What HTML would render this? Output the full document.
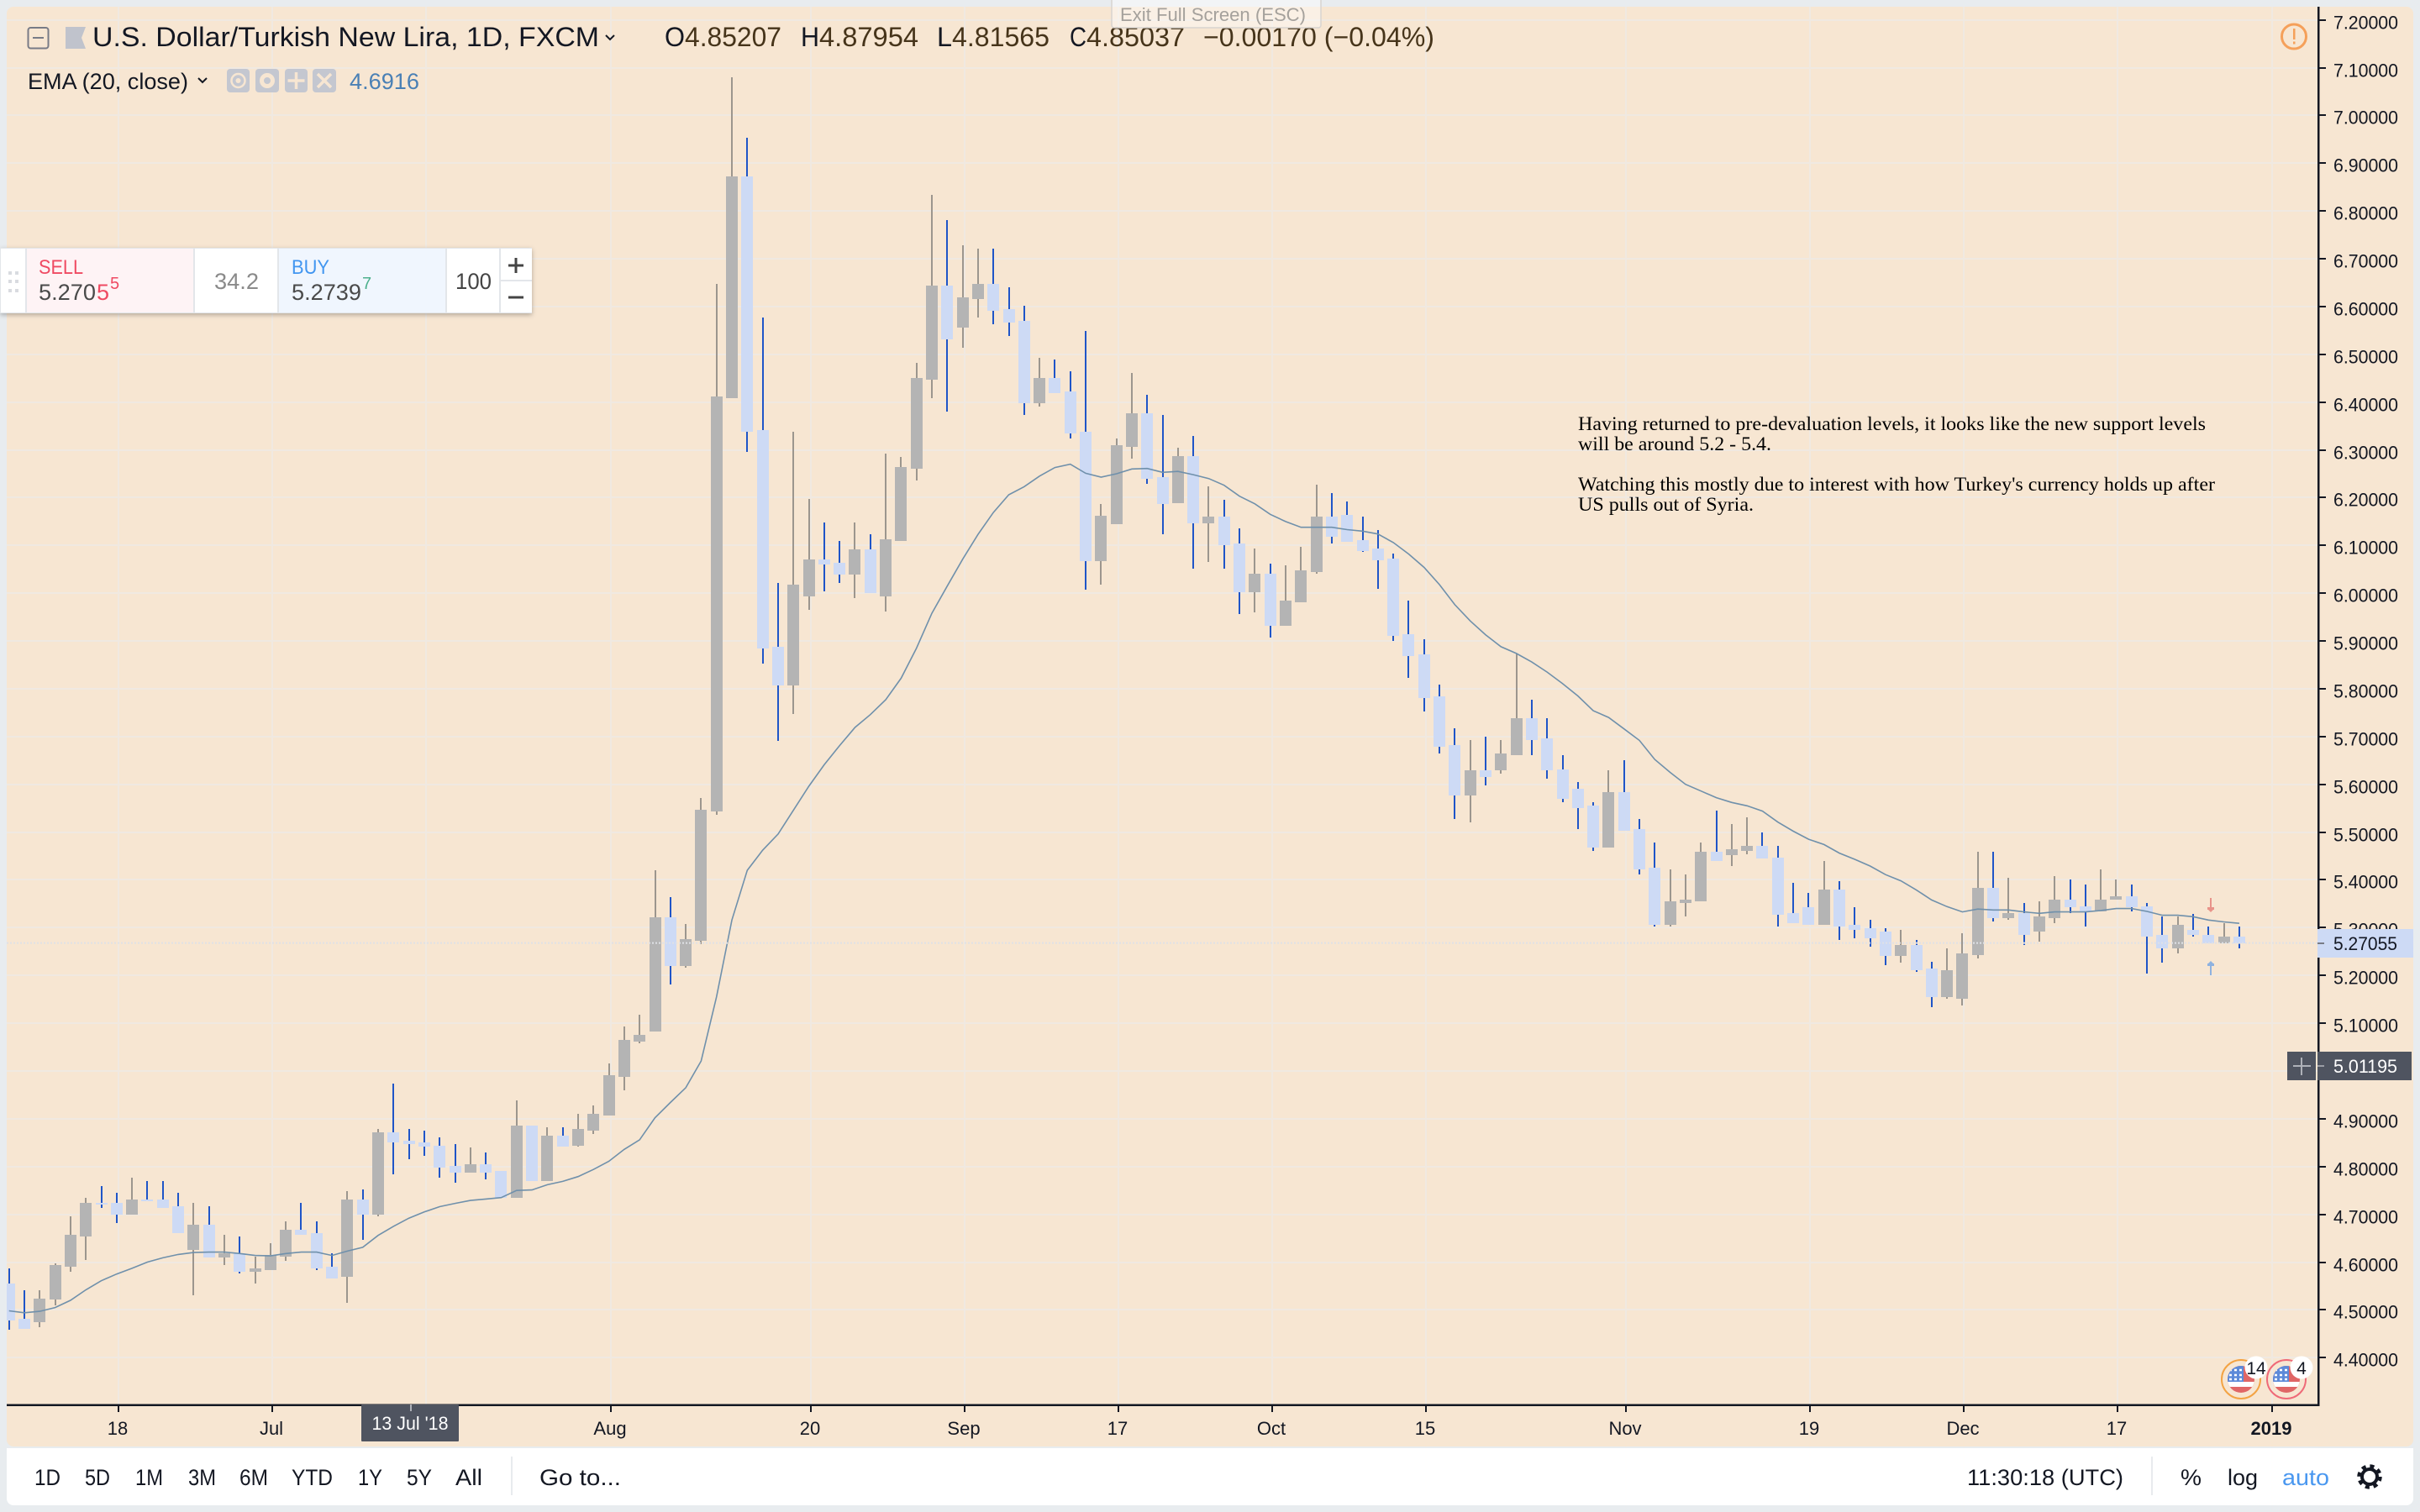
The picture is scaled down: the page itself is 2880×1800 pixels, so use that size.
<!DOCTYPE html>
<html lang="en">
<head>
<meta charset="utf-8">
<title>U.S. Dollar/Turkish New Lira, 1D, FXCM</title>
<style>
html,body{margin:0;padding:0;width:2880px;height:1800px;overflow:hidden;background:#e8ecef;}
svg{display:block;font-family:"Liberation Sans",Arial,sans-serif;}
</style>
</head>
<body>
<svg id="root" width="2880" height="1800" viewBox="0 0 2880 1800" xmlns="http://www.w3.org/2000/svg">
  <defs>
    <clipPath id="plot-clip"><rect x="8" y="8" width="2750" height="1664"/></clipPath>
    <clipPath id="flag-a"><circle cx="2667" cy="1642" r="16"/></clipPath>
    <clipPath id="flag-b"><circle cx="2721" cy="1642" r="16"/></clipPath>
    <filter id="widget-shadow" x="-5%" y="-20%" width="110%" height="140%"><feDropShadow dx="0" dy="2" stdDeviation="3" flood-color="#000" flood-opacity="0.28"/></filter>
  </defs>

  <rect x="8" y="8" width="2864" height="1714" rx="8" fill="#f7e6d2"/>

  <g id="grid-layer"></g>
  <g id="candle-layer" clip-path="url(#plot-clip)"></g>
  <path id="ema-line" fill="none" stroke="#6f90ab" stroke-width="1.6" clip-path="url(#plot-clip)"/>
  <line id="last-price-line" x1="8" x2="2758" stroke="#dfe1e6" stroke-width="2" stroke-dasharray="2 2"/>

  <g fill="#e8938a">
    <rect x="2630" y="1069" width="2" height="16"/><rect x="2627" y="1080" width="8" height="3"/><path d="M2628 1083h6l-3 3z"/>
  </g>
  <g fill="#8fb2df">
    <rect x="2630" y="1146" width="2" height="15"/><rect x="2627" y="1147" width="8" height="3"/><path d="M2628 1147h6l-3-3z"/>
  </g>

  <g font-family="'Liberation Serif',serif" font-size="23" fill="#000">
    <text x="1878" y="512" textLength="747" lengthAdjust="spacingAndGlyphs">Having returned to pre-devaluation levels, it looks like the new support levels</text>
    <text x="1878" y="536" textLength="230" lengthAdjust="spacingAndGlyphs">will be around 5.2 - 5.4.</text>
    <text x="1878" y="584" textLength="758" lengthAdjust="spacingAndGlyphs">Watching this mostly due to interest with how Turkey's currency holds up after</text>
    <text x="1878" y="608" textLength="209" lengthAdjust="spacingAndGlyphs">US pulls out of Syria.</text>
  </g>

  <g id="axis-layer"></g>

  <rect x="2758" y="1106" width="114" height="34" fill="#cddaf5"/>
  <rect x="2758" y="1122" width="8" height="2" fill="#787b86"/>
  <text x="2777" y="1131" font-size="22" fill="#131722" textLength="76" lengthAdjust="spacingAndGlyphs">5.27055</text>

  <rect x="2722" y="1252" width="34" height="34" fill="#4f5460"/>
  <path d="M2739 1259v21M2729 1269h21" stroke="#aeb1b8" stroke-width="2" fill="none"/>
  <rect x="2758" y="1252" width="112" height="34" fill="#4f5460"/>
  <rect x="2758" y="1268" width="8" height="2" fill="#9a9da5"/>
  <text x="2777" y="1277" font-size="22" fill="#fff" textLength="76" lengthAdjust="spacingAndGlyphs">5.01195</text>

  <rect x="430" y="1672" width="116" height="44" rx="1" fill="#4f5460"/>
  <rect x="488" y="1672" width="2" height="8" fill="#aeb1b8"/>
  <text x="488" y="1702" font-size="22" fill="#fff" text-anchor="middle" textLength="91" lengthAdjust="spacingAndGlyphs">13 Jul '18</text>

  <g>
    <rect x="33.5" y="33" width="24" height="24.5" rx="3" fill="none" stroke="#787b86" stroke-width="2"/>
    <rect x="39" y="44" width="13" height="2" fill="#787b86"/>
    <path d="M78 32h24l-5 13 5 13H78z" fill="#c0c3cc"/>
    <text x="110" y="55" font-size="32" fill="#131722" textLength="603" lengthAdjust="spacingAndGlyphs">U.S. Dollar/Turkish New Lira, 1D, FXCM</text>
    <path d="M721 42l5 5 5-5" fill="none" stroke="#131722" stroke-width="2"/>
    <g font-size="32">
      <text x="791" y="55" fill="#131722" textLength="24" lengthAdjust="spacingAndGlyphs">O</text>
      <text x="815" y="55" fill="#46341a" textLength="115" lengthAdjust="spacingAndGlyphs">4.85207</text>
      <text x="953" y="55" fill="#131722" textLength="22" lengthAdjust="spacingAndGlyphs">H</text>
      <text x="975" y="55" fill="#46341a" textLength="118" lengthAdjust="spacingAndGlyphs">4.87954</text>
      <text x="1115" y="55" fill="#131722" textLength="18" lengthAdjust="spacingAndGlyphs">L</text>
      <text x="1133" y="55" fill="#46341a" textLength="116" lengthAdjust="spacingAndGlyphs">4.81565</text>
      <text x="1273" y="55" fill="#131722" textLength="20" lengthAdjust="spacingAndGlyphs">C</text>
      <text x="1293" y="55" fill="#46341a" textLength="117" lengthAdjust="spacingAndGlyphs">4.85037</text>
      <text x="1432" y="55" fill="#46341a" textLength="275" lengthAdjust="spacingAndGlyphs">−0.00170 (−0.04%)</text>
    </g>
  </g>

  <g>
    <text x="33" y="106" font-size="27" fill="#131722" textLength="191" lengthAdjust="spacingAndGlyphs">EMA (20, close)</text>
    <path d="M236 93l5 5 5-5" fill="none" stroke="#131722" stroke-width="2"/>
    <g><rect x="270" y="82" width="27" height="28" rx="4" fill="#c4c7d0"/><circle cx="283.500" cy="96" r="8" fill="none" stroke="#f7e6d2" stroke-width="2.500"/><circle cx="283.500" cy="96" r="3" fill="#f7e6d2"/></g>
    <g><rect x="304" y="82" width="28" height="28" rx="4" fill="#c4c7d0"/><circle cx="318" cy="96" r="6.500" fill="none" stroke="#f7e6d2" stroke-width="5"/></g>
    <g><rect x="339" y="82" width="27" height="28" rx="4" fill="#c4c7d0"/><path d="M352.500 86v20M342.500 96h20" stroke="#f7e6d2" stroke-width="3.500"/></g>
    <g><rect x="372" y="82" width="28" height="28" rx="4" fill="#c4c7d0"/><path d="M378 88l16 16M394 88l-16 16" stroke="#f7e6d2" stroke-width="3.500"/></g>
    <text x="416" y="106" font-size="27" fill="#4a80b5" textLength="83" lengthAdjust="spacingAndGlyphs">4.6916</text>
  </g>

  <g>
    <rect x="0" y="295" width="633" height="78" fill="#e3e6ea" filter="url(#widget-shadow)"/>
    <rect x="1" y="296" width="29" height="76" fill="#fff"/>
    <g fill="#d9dbe0"><rect x="10" y="323" width="4" height="4"/><rect x="18" y="323" width="4" height="4"/><rect x="10" y="333" width="4" height="4"/><rect x="18" y="333" width="4" height="4"/><rect x="10" y="344" width="4" height="4"/><rect x="18" y="344" width="4" height="4"/></g>
    <g>
      <rect x="32" y="296" width="198" height="76" fill="#fef3f5"/>
      <text x="46" y="326" font-size="24" fill="#ef4a62" textLength="53" lengthAdjust="spacingAndGlyphs">SELL</text>
      <text x="46" y="357" font-size="27" fill="#4a4a4a" textLength="68" lengthAdjust="spacingAndGlyphs">5.270</text>
      <text x="115" y="357" font-size="27" fill="#ef4a62">5</text>
      <text x="131" y="344" font-size="20" fill="#ef4a62">5</text>
    </g>
    <rect x="232" y="296" width="98" height="76" fill="#fff"/>
    <text x="255" y="344" font-size="27" fill="#8a8a8a" textLength="53" lengthAdjust="spacingAndGlyphs">34.2</text>
    <g>
      <rect x="332" y="296" width="198" height="76" fill="#f0f6fe"/>
      <text x="347" y="326" font-size="24" fill="#4296f0" textLength="45" lengthAdjust="spacingAndGlyphs">BUY</text>
      <text x="347" y="357" font-size="27" fill="#4a4a4a" textLength="83" lengthAdjust="spacingAndGlyphs">5.2739</text>
      <text x="431" y="344" font-size="20" fill="#4db08d">7</text>
    </g>
    <rect x="532" y="296" width="62" height="76" fill="#fff"/>
    <text x="542" y="344" font-size="27" fill="#444" textLength="43" lengthAdjust="spacingAndGlyphs">100</text>
    <rect x="596" y="296" width="37" height="37" fill="#fff"/>
    <rect x="596" y="335" width="37" height="37" fill="#fff"/>
    <path d="M614 307v18M605 316h18M605 354h18" stroke="#444" stroke-width="3"/>
  </g>

  <g>
    <rect x="1323" y="-4" width="249" height="37" rx="3" fill="#ffffff" fill-opacity="0.42" stroke="#d8d4d0" stroke-width="1.500"/>
    <text x="1333" y="25" font-size="22" fill="#a5a19c" textLength="221" lengthAdjust="spacingAndGlyphs">Exit Full Screen (ESC)</text>
  </g>

  <g>
    <circle cx="2730" cy="43.500" r="14.500" fill="none" stroke="#f5a05a" stroke-width="3"/>
    <rect x="2729" y="34" width="2.500" height="13" fill="#f5a05a"/><rect x="2729" y="49.500" width="2.500" height="3" fill="#f5a05a"/>
  </g>

  <g>
    <circle cx="2667" cy="1642" r="23" fill="none" stroke="#f3a343" stroke-width="2"/>
    <g clip-path="url(#flag-a)">
      <rect x="2651" y="1626" width="32" height="32" fill="#e06666"/>
      <rect x="2651" y="1645" width="32" height="6" fill="#fff"/>
      <rect x="2651" y="1626" width="19" height="19" fill="#5d8ad9"/>
      <path d="M2653 1631h16M2653 1637h16M2653 1642h16" stroke="#fff" stroke-width="2.500" stroke-dasharray="3 3"/>
    </g>
    <circle cx="2685" cy="1628" r="13.500" fill="#fff"/>
    <text x="2685" y="1636" font-size="21" fill="#131722" text-anchor="middle">14</text>
  </g>
  <g>
    <circle cx="2721" cy="1642" r="23" fill="none" stroke="#ef6a78" stroke-width="2"/>
    <g clip-path="url(#flag-b)">
      <rect x="2705" y="1626" width="32" height="32" fill="#e06666"/>
      <rect x="2705" y="1645" width="32" height="6" fill="#fff"/>
      <rect x="2705" y="1626" width="19" height="19" fill="#5d8ad9"/>
      <path d="M2707 1631h16M2707 1637h16M2707 1642h16" stroke="#fff" stroke-width="2.500" stroke-dasharray="3 3"/>
    </g>
    <circle cx="2739" cy="1628" r="13.500" fill="#fff"/>
    <text x="2739" y="1636" font-size="21" fill="#131722" text-anchor="middle">4</text>
  </g>

  <g font-size="27" fill="#131722">
    <path d="M8 1724H2872V1784a8 8 0 0 1-8 8H16a8 8 0 0 1-8-8z" fill="#fff"/>
    <text x="41" y="1768" textLength="31" lengthAdjust="spacingAndGlyphs">1D</text>
    <text x="101" y="1768" textLength="30" lengthAdjust="spacingAndGlyphs">5D</text>
    <text x="161" y="1768" textLength="33" lengthAdjust="spacingAndGlyphs">1M</text>
    <text x="224" y="1768" textLength="33" lengthAdjust="spacingAndGlyphs">3M</text>
    <text x="285" y="1768" textLength="34" lengthAdjust="spacingAndGlyphs">6M</text>
    <text x="347" y="1768" textLength="49" lengthAdjust="spacingAndGlyphs">YTD</text>
    <text x="426" y="1768" textLength="29" lengthAdjust="spacingAndGlyphs">1Y</text>
    <text x="484" y="1768" textLength="30" lengthAdjust="spacingAndGlyphs">5Y</text>
    <text x="542" y="1768" textLength="32" lengthAdjust="spacingAndGlyphs">All</text>
    <rect x="608" y="1734" width="2" height="46" fill="#e8ebee"/>
    <text x="642" y="1768" textLength="97" lengthAdjust="spacingAndGlyphs">Go to...</text>
    <text x="2341" y="1768" textLength="186" lengthAdjust="spacingAndGlyphs">11:30:18 (UTC)</text>
    <rect x="2560" y="1734" width="2" height="46" fill="#e8ebee"/>
    <text x="2595" y="1768" textLength="25" lengthAdjust="spacingAndGlyphs">%</text>
    <text x="2651" y="1768" textLength="36" lengthAdjust="spacingAndGlyphs">log</text>
    <text x="2716" y="1768" fill="#4a98f0" textLength="56" lengthAdjust="spacingAndGlyphs">auto</text>
    <g>
      <circle cx="2820" cy="1758" r="9" fill="none" stroke="#131722" stroke-width="4"/>
      <circle cx="2820" cy="1758" r="12.500" fill="none" stroke="#131722" stroke-width="4.500" stroke-dasharray="5 4.820"/>
    </g>
  </g>
</svg>

<script>
const opens=[4.555,4.481,4.475,4.521,4.591,4.654,4.724,4.724,4.700,4.731,4.731,4.717,4.626,4.678,4.609,4.619,4.580,4.584,4.612,4.668,4.661,4.590,4.570,4.731,4.700,4.872,4.854,4.851,4.844,4.801,4.788,4.805,4.791,4.735,4.886,4.770,4.865,4.844,4.875,4.907,4.988,5.062,5.083,5.322,5.220,5.273,5.544,6.409,6.872,6.341,5.888,5.807,5.993,6.071,6.063,6.039,6.092,5.993,6.109,6.261,6.447,6.644,6.556,6.616,6.647,6.594,6.570,6.398,6.451,6.422,6.338,6.067,6.145,6.306,6.376,6.243,6.189,6.287,6.146,6.160,6.104,6.002,6.041,5.931,5.981,6.044,6.160,6.164,6.111,6.093,6.072,5.914,5.872,5.784,5.682,5.576,5.629,5.629,5.661,5.738,5.696,5.632,5.590,5.555,5.467,5.584,5.506,5.426,5.306,5.352,5.356,5.458,5.451,5.461,5.472,5.447,5.331,5.342,5.306,5.380,5.306,5.299,5.292,5.240,5.264,5.215,5.155,5.152,5.243,5.384,5.320,5.331,5.292,5.320,5.359,5.345,5.334,5.359,5.366,5.345,5.285,5.257,5.296,5.285,5.268,5.282];
const highs=[4.587,4.541,4.541,4.597,4.696,4.735,4.759,4.745,4.777,4.770,4.770,4.745,4.724,4.717,4.657,4.654,4.612,4.640,4.685,4.724,4.685,4.619,4.749,4.752,4.879,4.974,4.879,4.875,4.861,4.847,4.840,4.830,4.791,4.938,4.886,4.882,4.882,4.910,4.928,5.016,5.093,5.118,5.420,5.364,5.308,5.572,6.647,7.080,6.953,6.577,6.021,6.338,6.197,6.148,6.109,6.148,6.123,6.292,6.285,6.482,6.834,6.781,6.728,6.721,6.721,6.640,6.602,6.493,6.489,6.464,6.549,6.187,6.323,6.461,6.415,6.373,6.305,6.329,6.224,6.195,6.135,6.093,6.062,6.058,6.097,6.227,6.209,6.192,6.160,6.132,6.083,5.984,5.904,5.808,5.717,5.692,5.699,5.692,5.874,5.777,5.738,5.661,5.605,5.562,5.629,5.650,5.527,5.479,5.422,5.412,5.479,5.545,5.517,5.531,5.500,5.472,5.394,5.373,5.440,5.398,5.342,5.317,5.299,5.296,5.275,5.229,5.257,5.289,5.458,5.458,5.405,5.352,5.356,5.408,5.401,5.391,5.422,5.401,5.391,5.352,5.324,5.324,5.328,5.303,5.310,5.303];
const lows=[4.458,4.461,4.464,4.510,4.580,4.604,4.713,4.682,4.700,4.728,4.713,4.661,4.531,4.609,4.594,4.577,4.556,4.584,4.602,4.658,4.584,4.566,4.514,4.647,4.696,4.784,4.816,4.823,4.777,4.767,4.788,4.774,4.735,4.735,4.770,4.770,4.841,4.841,4.868,4.907,4.960,5.058,5.083,5.181,5.216,5.266,5.536,6.409,6.296,5.852,5.691,5.748,5.966,6.004,6.021,5.990,6.000,5.962,6.109,6.236,6.409,6.380,6.514,6.577,6.563,6.539,6.373,6.391,6.419,6.323,6.008,6.018,6.145,6.281,6.229,6.123,6.189,6.052,6.065,6.052,5.956,5.960,5.907,5.931,5.981,6.041,6.104,6.108,6.087,6.009,5.900,5.823,5.752,5.665,5.527,5.521,5.597,5.622,5.661,5.661,5.611,5.562,5.506,5.460,5.467,5.503,5.411,5.303,5.303,5.324,5.356,5.440,5.429,5.454,5.444,5.303,5.310,5.306,5.306,5.275,5.278,5.261,5.222,5.226,5.208,5.134,5.152,5.138,5.236,5.313,5.317,5.264,5.271,5.310,5.331,5.303,5.334,5.359,5.334,5.204,5.226,5.247,5.282,5.268,5.268,5.257];
const closes=[4.478,4.461,4.524,4.594,4.657,4.724,4.720,4.700,4.731,4.728,4.714,4.661,4.678,4.609,4.619,4.580,4.587,4.615,4.668,4.658,4.587,4.566,4.731,4.700,4.872,4.851,4.847,4.841,4.798,4.788,4.805,4.788,4.735,4.886,4.770,4.865,4.841,4.879,4.910,4.991,5.065,5.076,5.322,5.220,5.276,5.547,6.411,6.872,6.338,5.885,5.807,6.018,6.071,6.060,6.039,6.092,6.000,6.113,6.264,6.451,6.644,6.532,6.619,6.647,6.591,6.567,6.398,6.451,6.419,6.334,6.067,6.162,6.310,6.376,6.239,6.187,6.287,6.146,6.160,6.100,6.002,6.041,5.931,5.984,6.048,6.160,6.118,6.108,6.089,6.069,5.910,5.868,5.780,5.678,5.576,5.629,5.615,5.664,5.738,5.692,5.629,5.569,5.551,5.467,5.584,5.503,5.422,5.306,5.356,5.359,5.458,5.440,5.465,5.472,5.444,5.327,5.310,5.306,5.380,5.303,5.296,5.278,5.240,5.264,5.211,5.155,5.211,5.247,5.384,5.320,5.331,5.285,5.324,5.359,5.342,5.334,5.359,5.366,5.342,5.282,5.257,5.306,5.285,5.268,5.282,5.268];
const emaValues=[4.498,4.494,4.497,4.505,4.520,4.542,4.561,4.575,4.587,4.600,4.609,4.616,4.620,4.621,4.621,4.618,4.614,4.613,4.618,4.621,4.621,4.614,4.623,4.631,4.656,4.675,4.692,4.705,4.716,4.723,4.729,4.732,4.735,4.750,4.751,4.762,4.769,4.779,4.794,4.811,4.836,4.856,4.902,4.934,4.965,5.021,5.155,5.316,5.420,5.462,5.496,5.546,5.596,5.641,5.681,5.719,5.746,5.777,5.822,5.885,5.958,6.015,6.071,6.123,6.169,6.206,6.223,6.245,6.263,6.270,6.251,6.243,6.250,6.260,6.261,6.253,6.255,6.248,6.240,6.226,6.203,6.187,6.165,6.150,6.138,6.138,6.138,6.133,6.130,6.124,6.106,6.082,6.054,6.018,5.976,5.942,5.913,5.888,5.874,5.856,5.835,5.811,5.785,5.754,5.740,5.716,5.692,5.652,5.625,5.600,5.586,5.572,5.562,5.555,5.544,5.521,5.502,5.485,5.474,5.456,5.443,5.429,5.411,5.398,5.379,5.358,5.344,5.333,5.339,5.337,5.337,5.333,5.330,5.333,5.333,5.333,5.336,5.340,5.340,5.334,5.326,5.326,5.323,5.316,5.312,5.309];
const priceTicks=["4.40000","4.50000","4.60000","4.70000","4.80000","4.90000","5.00000","5.10000","5.20000","5.30000","5.40000","5.50000","5.60000","5.70000","5.80000","5.90000","6.00000","6.10000","6.20000","6.30000","6.40000","6.50000","6.60000","6.70000","6.80000","6.90000","7.00000","7.10000","7.20000"];
const timeTickBars=[7,17,27,39,52,62,72,82,92,105,117,127,137,147];
const timeTickLabels=["18","Jul","16","Aug","20","Sep","17","Oct","15","Nov","19","Dec","17","2019"];
const lastPrice=5.268;

const SVG_NS='http://www.w3.org/2000/svg';
function xOf(bar){return 10.7+bar*18.305;}
function yOf(price){return 1275-(price-5)*568.8;}
function mk(parent,tag,attrs){
  const el=document.createElementNS(SVG_NS,tag);
  for(const k in attrs){el.setAttribute(k,attrs[k]);}
  parent.appendChild(el);
  return el;
}
const gridLayer=document.getElementById('grid-layer');
const axisLayer=document.getElementById('axis-layer');
const candleLayer=document.getElementById('candle-layer');

priceTicks.forEach(function(label){
  const y=Math.round(yOf(parseFloat(label)));
  const g=mk(gridLayer,'rect',{x:8,y:y-1,width:2750,height:2,fill:'#f0e9e1'});
  
  
  const t=mk(axisLayer,'rect',{x:2759,y:y-1,width:9,height:2,fill:'#131722'});
  
  
  const txt=mk(axisLayer,'text',{x:2777,y:y+10.5,'font-size':22,fill:'#131722',textLength:77,lengthAdjust:'spacingAndGlyphs'});
  txt.textContent=label;
  
  
});
timeTickBars.forEach(function(bar,i){
  const x=Math.round(xOf(bar)+2);
  const g=mk(gridLayer,'rect',{x:x-1,y:8,width:2,height:1664,fill:'#f0e9e1'});
  
  
  const t=mk(axisLayer,'rect',{x:x-1,y:1673,width:2,height:8,fill:'#131722'});
  
  
  const label=timeTickLabels[i];
  const txt=mk(axisLayer,'text',{x:x-1,y:1708,'font-size':22,fill:'#131722','text-anchor':'middle','font-weight':label==='2019'?'bold':'normal'});
  txt.textContent=label;
  
  
});
const yAxisLine=mk(axisLayer,'rect',{x:2758,y:8,width:2.5,height:1666,fill:'#131722'});


const xAxisLine=mk(axisLayer,'rect',{x:8,y:1671.500,width:2752,height:2.5,fill:'#131722'});



opens.forEach(function(open,i){
  const close=closes[i];
  const up=close>open;
  const cx=xOf(i);
  const wick=mk(candleLayer,'rect',{x:Math.round(cx)-1,y:Math.round(yOf(highs[i])),width:2,height:Math.max(1,Math.round(yOf(lows[i]))-Math.round(yOf(highs[i]))),fill:up?'#9c968e':'#1f55c8','shape-rendering':'crispEdges'});
  
  
  const top=Math.round(yOf(Math.max(open,close)));
  const bot=Math.round(yOf(Math.min(open,close)));
  const body=mk(candleLayer,'rect',{x:Math.round(cx)-7,y:top,width:14,height:Math.max(2,bot-top),fill:up?'#b4b4b4':'#cddaf5','shape-rendering':'crispEdges'});
  
  
});

document.getElementById('ema-line').setAttribute('d',emaValues.map(function(v,i){
  return (i?'L':'M')+xOf(i).toFixed(1)+' '+yOf(v).toFixed(1);
}).join(''));
const lastLine=document.getElementById('last-price-line');
lastLine.setAttribute('y1',yOf(lastPrice).toFixed(1));
lastLine.setAttribute('y2',yOf(lastPrice).toFixed(1));
</script>
</body>
</html>
